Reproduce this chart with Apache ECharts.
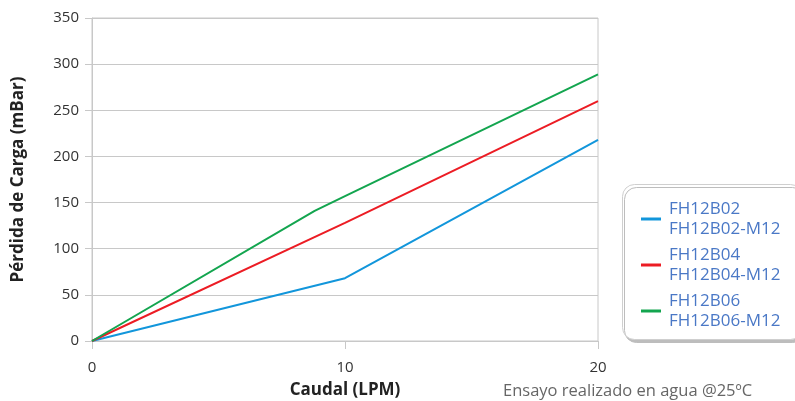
<!DOCTYPE html>
<html><head><meta charset="utf-8">
<script src="https://cdn.jsdelivr.net/npm/echarts@6/dist/echarts.min.js"></script>
<style>html,body{margin:0;padding:0;background:#fff}#c{width:795px;height:401px}</style>
</head><body><div id="c"></div>
<script>
const seriesNames = ["FH12B02\nFH12B02-M12", "FH12B04\nFH12B04-M12", "FH12B06\nFH12B06-M12"];
const blueData = [[0, 0], [10, 68], [20, 218]];
const redData = [[0, 0], [10, 128], [20, 260]];
const greenData = [[0, 0], [8.8, 141], [10, 157], [20, 289]];
const colors = ["#1296db", "#ec1c24", "#13a54f"];
const xTitle = "Caudal (LPM)";
const yTitle = "Pérdida de Carga (mBar)";
const note = "Ensayo realizado en agua @25ºC";

const font = "'Open Sans', 'Noto Sans', sans-serif";
const chart = echarts.init(document.getElementById('c'));
chart.setOption({
  animation: false,
  color: colors,
  grid: { left: 92, right: 197, top: 18, bottom: 60, outerBoundsMode: 'none', containLabel: false,
    show: true, borderColor: '#c8c8c8', borderWidth: 1, backgroundColor: 'transparent' },
  xAxis: {
    type: 'value', min: 0, max: 20, interval: 10,
    name: xTitle, nameLocation: 'middle', nameGap: 41,
    nameTextStyle: { fontFamily: font, fontSize: 17, fontWeight: 'bold', color: '#222' },
    axisLine: { show: true, lineStyle: { color: '#c8c8c8' } },
    axisTick: { show: true, length: 8, lineStyle: { color: '#c8c8c8' } },
    axisLabel: { fontFamily: font, fontSize: 15, color: '#333', margin: 19 },
    splitLine: { show: false }
  },
  yAxis: {
    type: 'value', min: 0, max: 350, interval: 50,
    name: yTitle, nameLocation: 'middle', nameGap: 65,
    nameTextStyle: { fontFamily: font, fontSize: 17, fontWeight: 'bold', color: '#222' },
    axisLine: { show: true, lineStyle: { color: '#c8c8c8' } },
    axisTick: { show: true, length: 7, lineStyle: { color: '#c8c8c8' } },
    axisLabel: { fontFamily: font, fontSize: 15, color: '#333', margin: 13 },
    splitLine: { show: true, lineStyle: { color: '#c8c8c8' } }
  },
  legend: {
    orient: 'vertical', left: 636, top: 194,
    itemWidth: 20, itemHeight: 3, itemGap: 6, icon: 'rect',
    textStyle: { fontFamily: font, fontSize: 17, color: '#4a78c6', lineHeight: 20, padding: [0, 0, 0, 3] },
    data: seriesNames
  },
  graphic: [
    { type: 'rect', left: 622, top: 184, shape: { width: 180, height: 155, r: 12 },
      style: { fill: '#fff', stroke: '#cfcfcf', lineWidth: 1, shadowBlur: 0, shadowOffsetX: 2, shadowOffsetY: 3, shadowColor: '#bdbdbd' }, z: -1 },
    { type: 'text', left: 503, top: 383, style: { text: note, fontFamily: font, fontSize: 16.5, fill: '#666' } }
  ],
  series: [
    { name: seriesNames[0], type: 'line', data: blueData, symbol: 'none', lineStyle: { width: 2, color: colors[0] } },
    { name: seriesNames[1], type: 'line', data: redData, symbol: 'none', lineStyle: { width: 2, color: colors[1] } },
    { name: seriesNames[2], type: 'line', data: greenData, symbol: 'none', lineStyle: { width: 2, color: colors[2] } }
  ]
});
</script></body></html>
